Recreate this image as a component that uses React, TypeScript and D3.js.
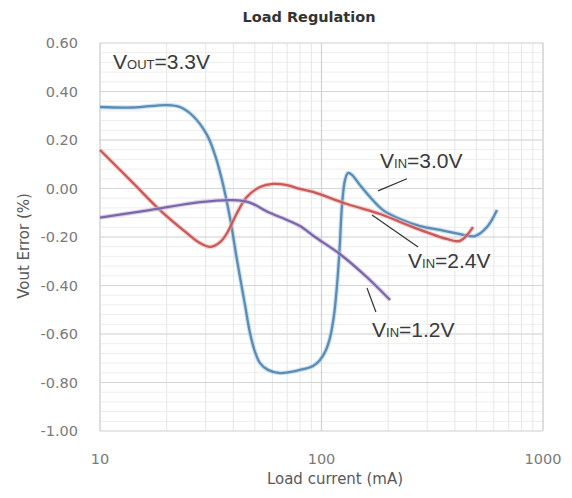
import React from "react";
import * as d3 from "d3";

const W = 572;
const H = 498;

// x: load current (mA), y: Vout error (%)
const xTickValues = [10, 100, 1000];
const xTickLabels = ["10", "100", "1000"];
const yTickValues = [0.6, 0.4, 0.2, 0, -0.2, -0.4, -0.6, -0.8, -1.0];
const yTickLabels = ["0.60", "0.40", "0.20", "0.00", "-0.20", "-0.40", "-0.60", "-0.80", "-1.00"];

const vin30Current = [10, 14.09, 20.07, 22.97, 26.3, 30.41, 33.06, 35.54, 38.64, 41.55, 45.14, 47.56, 50.1, 52.78, 57.34, 64.95, 79.97, 91.54, 98.45, 104.8, 109.2, 113.9, 117.5, 120.6, 123.8, 127.7, 131.7, 137.3, 149.2, 165.6, 189.6, 226.1, 278.5, 342.8, 422.0, 493.2, 558.9, 620.0];
const vin30Error = [0.336, 0.334, 0.344, 0.336, 0.299, 0.221, 0.138, 0.035, -0.122, -0.295, -0.48, -0.596, -0.674, -0.72, -0.748, -0.761, -0.748, -0.732, -0.707, -0.666, -0.616, -0.522, -0.398, -0.254, -0.068, 0.035, 0.064, 0.056, 0.014, -0.035, -0.089, -0.126, -0.155, -0.171, -0.188, -0.196, -0.159, -0.089];

const vin24Current = [10, 14.09, 18.65, 24.69, 28.27, 31.41, 34.85, 37.45, 41.55, 46.0, 52.78, 60.4, 69.9, 79.97, 91.54, 130.3, 184.0, 226.1, 258.9, 367.9, 422.0, 483.1];
const vin24Error = [0.159, 0.023, -0.089, -0.184, -0.225, -0.241, -0.221, -0.184, -0.101, -0.035, 0.006, 0.019, 0.014, -0.002, -0.014, -0.064, -0.105, -0.138, -0.159, -0.208, -0.216, -0.159];

const vin12Current = [10, 16.8, 28.3, 39.9, 47.5, 56.7, 70, 80, 93.5, 121, 160, 204];
const vin12Error = [-0.12, -0.089, -0.056, -0.048, -0.058, -0.095, -0.13, -0.155, -0.2, -0.27, -0.365, -0.46];

const seriesNames = ["3.0V", "2.4V", "1.2V"];
const seriesColors = ["#5b8cb5", "#c95a5a", "#7b67a8"];
const seriesHalo = ["#a9cbe6", "#efb0ae", "#c2b6dd"];

// annotation leader lines [current, error] pairs
const lead30 = [[180, -0.01], [243, 0.04]];
const lead24 = [[169, -0.109], [273, -0.241]];
const lead12 = [[160.5, -0.41], [176, -0.509]];

export default function App() {
  const left = 100, right = 543, top = 43, bottom = 431;
  const x = d3.scaleLog().domain([10, 1000]).range([left, right]);
  const y = d3.scaleLinear().domain([-1, 0.6]).range([bottom, top]);

  const minorY = d3.range(0, 41).map((i) => -1 + i * 0.04);
  const minorX = x.ticks();

  const line = d3
    .line<[number, number]>()
    .x((d) => x(d[0]))
    .y((d) => y(d[1]))
    .curve(d3.curveCatmullRom.alpha(0.5));

  const series = [
    vin30Current.map((c, i) => [c, vin30Error[i]] as [number, number]),
    vin24Current.map((c, i) => [c, vin24Error[i]] as [number, number]),
    vin12Current.map((c, i) => [c, vin12Error[i]] as [number, number]),
  ];

  const axisFont = "'DejaVu Sans', sans-serif";
  const annFont = "'Liberation Sans', Arial, sans-serif";
  const leaders = [lead30, lead24, lead12];

  const annot = (sub: string, rest: string, px: number, py: number, key: string) => (
    <text key={key} x={px} y={py} fontFamily={annFont} fontSize={21} fill="#3a3a3a">
      V<tspan fontSize={13}>{sub}</tspan>
      {rest}
    </text>
  );

  return (
    <svg width={W} height={H} style={{ position: "absolute", left: 0, top: 0, background: "#fff" }}>
      <rect x={0} y={0} width={W} height={H} fill="#fff" />
      {minorY.map((v, i) => (
        <line key={"my" + i} x1={left} x2={right} y1={y(v)} y2={y(v)} stroke="#ededed" strokeWidth={1} />
      ))}
      {minorX.map((v, i) => (
        <line key={"mx" + i} x1={x(v)} x2={x(v)} y1={top} y2={bottom} stroke="#e6e6e6" strokeWidth={1} />
      ))}
      {yTickValues.map((v, i) => (
        <line key={"gy" + i} x1={left} x2={right} y1={y(v)} y2={y(v)} stroke="#d6d6d6" strokeWidth={1.2} />
      ))}
      {xTickValues.map((v, i) => (
        <line key={"gx" + i} x1={x(v)} x2={x(v)} y1={top} y2={bottom} stroke="#d0d0d0" strokeWidth={1.2} />
      ))}
      {series.map((s, i) => (
        <g key={"s" + i}>
          <path d={line(s) || ""} fill="none" stroke={seriesHalo[i]} strokeWidth={4.5} strokeOpacity={0.6} />
          <path d={line(s) || ""} fill="none" stroke={seriesColors[i]} strokeWidth={2.3} />
        </g>
      ))}
      {leaders.map((l, i) => (
        <line key={"ld" + i} x1={x(l[0][0])} y1={y(l[0][1])} x2={x(l[1][0])} y2={y(l[1][1])} stroke="#333" strokeWidth={1.2} />
      ))}
      {yTickValues.map((v, i) => (
        <text key={"yt" + i} x={78} y={y(v) + 5} textAnchor="end" fontFamily={axisFont} fontSize={14.5} fill="#7a7a7a">
          {yTickLabels[i]}
        </text>
      ))}
      {xTickValues.map((v, i) => (
        <text key={"xt" + i} x={x(v)} y={464} textAnchor="middle" fontFamily={axisFont} fontSize={14.5} fill="#7a7a7a">
          {xTickLabels[i]}
        </text>
      ))}
      <text x={335} y={484} textAnchor="middle" fontFamily={axisFont} fontSize={15} fill="#595959">
        Load current (mA)
      </text>
      <text transform="translate(29,246) rotate(-90)" textAnchor="middle" fontFamily={axisFont} fontSize={15} fill="#595959">
        Vout Error (%)
      </text>
      <text x={309} y={22} textAnchor="middle" fontFamily={axisFont} fontWeight="bold" fontSize={14.5} fill="#333">
        Load Regulation
      </text>
      {annot("OUT", "=3.3V", 113, 69, "a0")}
      {annot("IN", "=" + seriesNames[0], 380, 168, "a1")}
      {annot("IN", "=" + seriesNames[1], 408, 268, "a2")}
      {annot("IN", "=" + seriesNames[2], 372, 337, "a3")}
    </svg>
  );
}
